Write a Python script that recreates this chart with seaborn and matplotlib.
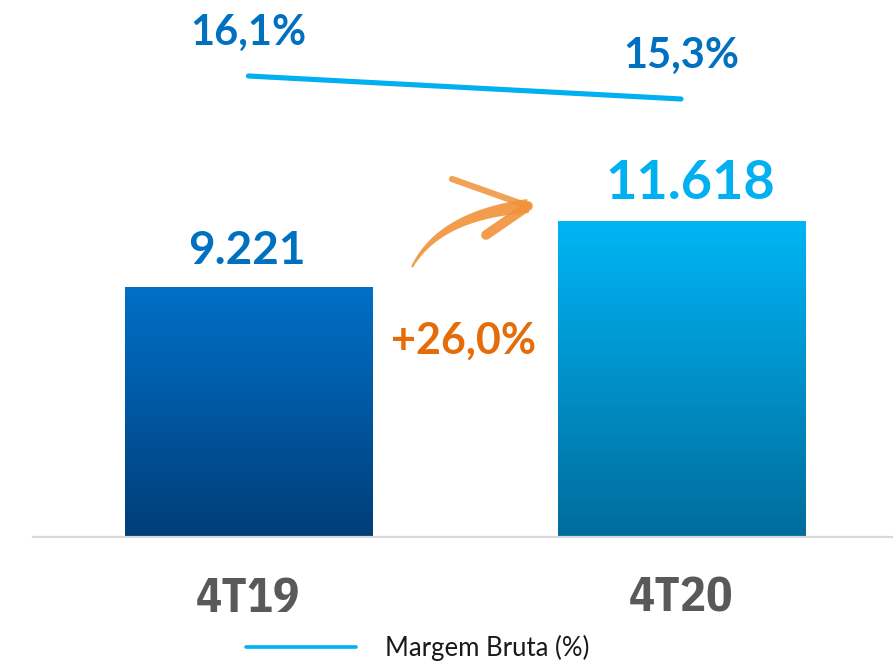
import os
import numpy as np
import matplotlib
matplotlib.use("Agg")
import matplotlib.pyplot as plt
import seaborn as sns
from matplotlib.colors import LinearSegmentedColormap
from matplotlib.patches import Polygon
from matplotlib.lines import Line2D
from matplotlib.textpath import TextPath
from matplotlib import font_manager

# ---- data ----
categories = ["4T19", "4T20"]
revenue = [9221, 11618]
revenue_labels = ["9.221", "11.618"]
margin = [16.1, 15.3]
margin_labels = ["16,1%", "15,3%"]
growth_label = "+26,0%"
legend_label = "Margem Bruta (%)"

sns.set_theme(style="white")
plt.rcParams['font.family'] = ['Lato', 'DejaVu Sans']

# pick (deterministically) the narrow bold font whose "4T19" shape best
# matches the reference proportions (width/height ~ 2.95)
cond_path = None
best = None
for f in sorted(font_manager.findSystemFonts()):
    n = os.path.basename(f).lower()
    if not (("condensed" in n or "narrow" in n) and "bold" in n):
        continue
    if "oblique" in n or "italic" in n or "semi" in n or "extra" in n:
        continue
    try:
        ext = TextPath((0, 0), "4T19", size=10,
                       prop=font_manager.FontProperties(fname=f)).get_extents()
        ratio = ext.width / ext.height
    except Exception:
        continue
    score = abs(ratio - 2.95)
    if best is None or score < best:
        best, cond_path = score, f

W, H = 893, 661
fig = plt.figure(figsize=(W / 100, H / 100), dpi=100)
fig.patch.set_facecolor("white")

ax = fig.add_axes([33 / W, (H - 537) / H, (W - 33) / W, 537 / H])
ax.set_facecolor("none")

sns.barplot(x=categories, y=revenue, ax=ax, width=0.571, color="#0070C0",
            saturation=1, edgecolor="none")

grads = [("#0070C8", "#003E78"), ("#00B5F5", "#006C9C")]
for patch, (top, bot) in zip(ax.patches, grads):
    x0, y0 = patch.get_x(), patch.get_y()
    w, h = patch.get_width(), patch.get_height()
    cmap = LinearSegmentedColormap.from_list("g", [bot, top])
    grad = np.linspace(0, 1, 256).reshape(-1, 1)
    im = ax.imshow(grad, extent=[x0, x0 + w, y0, y0 + h], origin="lower",
                   cmap=cmap, aspect="auto", zorder=2)
    im.set_clip_path(patch)
    patch.set_facecolor("none")
ax.set_xlim(-0.498, 1.490)
ax.set_ylim(0, 19772)

for sp in ["left", "right", "top"]:
    ax.spines[sp].set_visible(False)
ax.spines["bottom"].set_color("#D9D9D9")
ax.spines["bottom"].set_linewidth(1.6)
ax.set_yticks([])
ax.set_xlabel("")
ax.set_ylabel("")
ax.tick_params(axis="x", length=0, pad=28)
for lbl in ax.get_xticklabels():
    if cond_path:
        lbl.set_fontproperties(font_manager.FontProperties(fname=cond_path, size=35))
    else:
        lbl.set_fontfamily(['DejaVu Sans'])
        lbl.set_fontweight("bold")
        lbl.set_fontsize(28)
    lbl.set_color("#595959")

val_colors = ["#0070C0", "#00B0F0"]
val_sizes = [33, 39]
val_dx = [-1, 7]
for i, (v, t) in enumerate(zip(revenue, revenue_labels)):
    ax.annotate(t, (i, v), xytext=(val_dx[i], 16), textcoords="offset points",
                ha="center", va="baseline", fontsize=val_sizes[i],
                fontweight="bold", color=val_colors[i], zorder=5)

ax.text(0.498, 6765, growth_label, ha="center", va="baseline", fontsize=31,
        fontweight="bold", color="#E46C0A", zorder=5)

ax2 = ax.twinx()
ax2.set_ylim(0.065, 18.743)
sns.lineplot(x=[0, 1], y=margin, ax=ax2, color="#00B0F0", linewidth=3.7,
             solid_capstyle="round", label=legend_label, legend=False)
ax2.set_xlim(-0.498, 1.490)
ax2.set_yticks([])
for sp in ax2.spines.values():
    sp.set_visible(False)
for i, (m, t) in enumerate(zip(margin, margin_labels)):
    ax2.annotate(t, (i, m), xytext=(0, 22.5), textcoords="offset points",
                 ha="center", va="baseline", fontsize=30, fontweight="bold",
                 color="#0070C0")

# decorative orange brush arrow (figure pixel overlay)
ov = fig.add_axes([0, 0, 1, 1], zorder=10)
ov.set_xlim(0, W)
ov.set_ylim(H, 0)
ov.axis("off")
ov.patch.set_alpha(0)
t = np.linspace(0, 1, 60)
p0, p1, p2 = np.array([412, 267]), np.array([440, 215]), np.array([528, 206])
pts = ((1 - t) ** 2)[:, None] * p0 + (2 * (1 - t) * t)[:, None] * p1 + (t ** 2)[:, None] * p2
d = np.gradient(pts, axis=0)
nrm = np.stack([-d[:, 1], d[:, 0]], axis=1)
nrm /= np.linalg.norm(nrm, axis=1)[:, None]
wid = 1 + 6 * t
upper = pts + nrm * wid[:, None]
lower = pts - nrm * wid[:, None]
ov.add_patch(Polygon(np.vstack([upper, lower[::-1]]), closed=True,
                     facecolor="#F0923A", edgecolor="none", alpha=0.9))
ov.plot([452, 528], [179, 206], color="#F0923A", lw=4.5, alpha=0.85,
        solid_capstyle="round")
ov.plot([486, 528], [235, 206], color="#F0923A", lw=7, alpha=0.9,
        solid_capstyle="round")

handle = Line2D([], [], color="#00B0F0", lw=2.6)
fig.legend([handle], [legend_label], loc="center",
           bbox_to_anchor=(417.5 / W, (H - 648) / H), frameon=False,
           fontsize=18.5, handlelength=4.3, handletextpad=1.1, borderpad=0,
           labelcolor="#1a1a1a")

fig.savefig("out.png", dpi=100, facecolor="white")
